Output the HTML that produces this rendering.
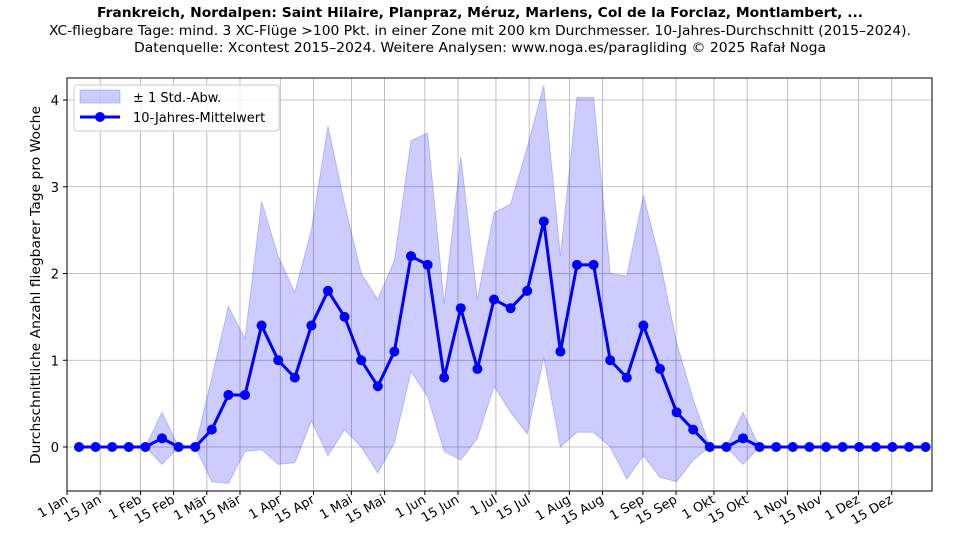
<!DOCTYPE html>
<html><head><meta charset="utf-8"><style>
body{margin:0;background:#fff;width:960px;height:540px;overflow:hidden}
svg{font-family:"DejaVu Sans","Liberation Sans",sans-serif}
</style></head><body>
<svg id="s" width="960" height="540" xmlns="http://www.w3.org/2000/svg">
<text x="480" y="17" text-anchor="middle" font-size="13" font-weight="bold" textLength="766" lengthAdjust="spacingAndGlyphs">Frankreich, Nordalpen: Saint Hilaire, Planpraz, Méruz, Marlens, Col de la Forclaz, Montlambert, ...</text>
<text x="480" y="35" text-anchor="middle" font-size="13" textLength="862" lengthAdjust="spacingAndGlyphs">XC-fliegbare Tage: mind. 3 XC-Flüge &gt;100 Pkt. in einer Zone mit 200 km Durchmesser. 10-Jahres-Durchschnitt (2015–2024).</text>
<text x="480" y="52" text-anchor="middle" font-size="13" textLength="692" lengthAdjust="spacingAndGlyphs">Datenquelle: Xcontest 2015–2024. Weitere Analysen: www.noga.es/paragliding © 2025 Rafał Noga</text>
<g id="g"></g>
<text transform="translate(40,285) rotate(-90)" text-anchor="middle" font-size="13" textLength="358" lengthAdjust="spacingAndGlyphs">Durchschnittliche Anzahl fliegbarer Tage pro Woche</text>
</svg>
<script>
var g=document.getElementById('g'),h='';
var L=67,R=932,T=78,B=491;
function Y(v){return 447-86.75*v}
function X(i){return 79+16.6*i}
var m=[0,0,0,0,0,0.1,0,0,0.2,0.6,0.6,1.4,1.0,0.8,1.4,1.8,1.5,1.0,0.7,1.1,2.2,2.1,0.8,1.6,0.9,1.7,1.6,1.8,2.6,1.1,2.1,2.1,1.0,0.8,1.4,0.9,0.4,0.2,0,0,0.1,0,0,0,0,0,0,0,0,0,0,0];
var u=[0,0,0,0,0,0.4,0,0,0.8,1.62,1.25,2.83,2.2,1.78,2.5,3.7,2.8,2.0,1.7,2.15,3.53,3.62,1.65,3.35,1.7,2.7,2.8,3.45,4.17,2.2,4.03,4.03,2.0,1.97,2.9,2.15,1.2,0.55,0,0,0.4,0,0,0,0,0,0,0,0,0,0,0];
var days=[0,14,31,45,59,73,90,104,120,134,151,165,181,195,212,226,243,257,273,287,304,318,334,348];
var labs=["1 Jan","15 Jan","1 Feb","15 Feb","1 Mär","15 Mär","1 Apr","15 Apr","1 Mai","15 Mai","1 Jun","15 Jun","1 Jul","15 Jul","1 Aug","15 Aug","1 Sep","15 Sep","1 Okt","15 Okt","1 Nov","15 Nov","1 Dez","15 Dez"];
days.forEach(function(d,k){var x=L+d*(R-L)/365;
h+='<line x1="'+x+'" y1="'+T+'" x2="'+x+'" y2="'+B+'" stroke="#b0b0b0" stroke-width="0.8"/>';
h+='<line x1="'+x+'" y1="'+B+'" x2="'+x+'" y2="'+(B+4)+'" stroke="#000"/>';
h+='<text transform="translate('+(x+2)+','+(B+11)+') rotate(-30)" text-anchor="end" font-size="13">'+labs[k]+'</text>';});
for(var v=0;v<=4;v++){var y=Y(v);
h+='<line x1="'+L+'" y1="'+y+'" x2="'+R+'" y2="'+y+'" stroke="#b0b0b0" stroke-width="0.8"/>';
h+='<line x1="'+(L-4)+'" y1="'+y+'" x2="'+L+'" y2="'+y+'" stroke="#000"/>';
h+='<text x="'+(L-8)+'" y="'+(y+5)+'" text-anchor="end" font-size="13">'+v+'</text>';}
var p='';for(var i=0;i<m.length;i++)p+=X(i)+','+Y(u[i])+' ';
for(var i=m.length-1;i>=0;i--)p+=X(i)+','+Y(2*m[i]-u[i])+' ';
h+='<polygon points="'+p+'" fill="#0000ff" fill-opacity="0.2" stroke="#0000ff" stroke-opacity="0.2"/>';
var q='';for(var i=0;i<m.length;i++)q+=X(i)+','+Y(m[i])+' ';
h+='<polyline points="'+q+'" fill="none" stroke="#0000ff" stroke-width="3" stroke-linejoin="round"/>';
for(var i=0;i<m.length;i++)h+='<circle cx="'+X(i)+'" cy="'+Y(m[i])+'" r="5" fill="#0000ff"/>';
h+='<rect x="'+L+'" y="'+T+'" width="'+(R-L)+'" height="'+(B-T)+'" fill="none" stroke="#000" stroke-width="1"/>';
h+='<rect x="74" y="85" width="205" height="46" rx="3" fill="#fff" fill-opacity="0.8" stroke="#ccc"/>';
h+='<rect x="80" y="90" width="40" height="13" fill="#0000ff" fill-opacity="0.2" stroke="#0000ff" stroke-opacity="0.2"/>';
h+='<text x="133" y="102" font-size="13">± 1 Std.-Abw.</text>';
h+='<line x1="80" y1="117" x2="120" y2="117" stroke="#0000ff" stroke-width="3"/><circle cx="100" cy="117" r="5" fill="#0000ff"/>';
h+='<text x="133" y="122" font-size="13">10-Jahres-Mittelwert</text>';
g.innerHTML=h;
</script>
</body></html>
